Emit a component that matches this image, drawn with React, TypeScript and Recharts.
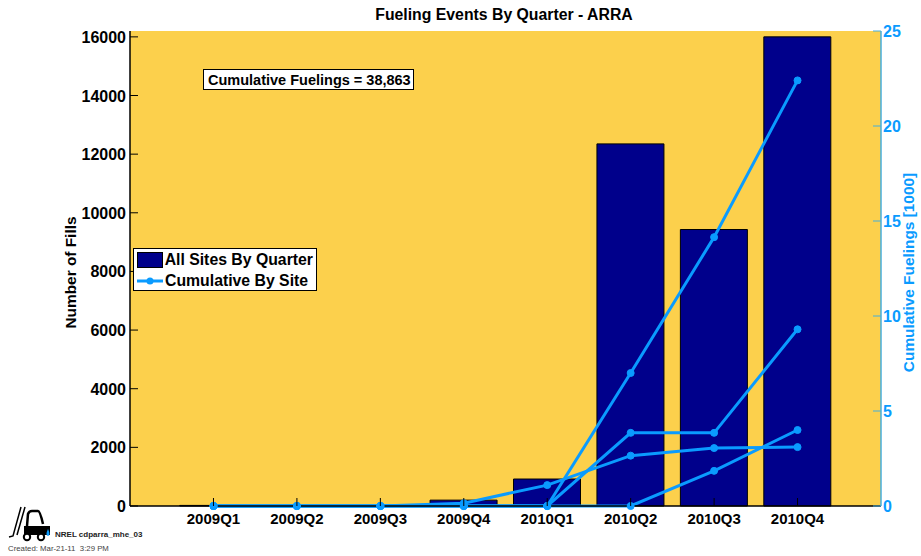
import React from 'react';
import { ComposedChart, Bar, Line, XAxis, YAxis, CartesianGrid, Legend } from 'recharts';

const quarters = ['2009Q1', '2009Q2', '2009Q3', '2009Q4', '2010Q1', '2010Q2', '2010Q3', '2010Q4'];
const allSites = [20, 0, 0, 200, 920, 12350, 9430, 16000];
const siteA = [0, 0, 0, 0, 0, 7.0, 14.15, 22.4];
const siteB = [0, 0, 0, 0, 0, 3.85, 3.85, 9.3];
const siteC = [0, 0, 0, 0.15, 1.1, 2.65, 3.05, 3.1];
const siteD = [0, 0, 0, 0, 0, 0, 1.85, 4.0];
const leftTicks = [0, 2000, 4000, 6000, 8000, 10000, 12000, 14000, 16000];
const rightTicks = [0, 5, 10, 15, 20, 25];

const data = quarters.map((q, i) => ({
  quarter: q,
  allSites: allSites[i],
  siteA: siteA[i],
  siteB: siteB[i],
  siteC: siteC[i],
  siteD: siteD[i],
}));

const FONT = '"Liberation Sans", Arial, sans-serif';
const BLUE = '#0a9bff';
const AXIS_BLUE = '#45aede';
const NAVY = '#00008b';

const lineSeries = ['siteA', 'siteB', 'siteC', 'siteD'];

function LeftTick({ x, y, payload }: any) {
  return (
    <g>
      <line x1={x} x2={x + 8} y1={y} y2={y} stroke="#000" />
      <text x={x - 4} y={y + 6} textAnchor="end" fontFamily={FONT} fontWeight="bold" fontSize={16} fill="#000">
        {payload.value}
      </text>
    </g>
  );
}

function RightTick({ x, y, payload }: any) {
  return (
    <g>
      <line x1={x - 8} x2={x} y1={y} y2={y} stroke={AXIS_BLUE} />
      <text x={x + 2} y={y + 6} fontFamily={FONT} fontWeight="bold" fontSize={16} fill={BLUE}>
        {payload.value}
      </text>
    </g>
  );
}

function BottomTick({ x, y, payload }: any) {
  return (
    <g>
      <line x1={x} x2={x} y1={y} y2={y - 8} stroke="#000" />
      <text x={x} y={y + 18} textAnchor="middle" fontFamily={FONT} fontWeight="bold" fontSize={15} fill="#000">
        {payload.value}
      </text>
    </g>
  );
}

function LegendBox() {
  const row: React.CSSProperties = { display: 'flex', alignItems: 'center', height: 20 };
  return (
    <div
      style={{
        width: 184,
        height: 43,
        boxSizing: 'border-box',
        border: '1.5px solid #000',
        background: '#fff',
        padding: '1px 3px',
        fontFamily: FONT,
        fontWeight: 'bold',
        fontSize: 15.8,
        color: '#000',
        whiteSpace: 'nowrap',
      }}
    >
      <div style={row}>
        <svg width={27} height={18} style={{ marginRight: 1 }}>
          <rect x={0.5} y={1.5} width={25} height={15} fill={NAVY} stroke="#000" />
        </svg>
        All Sites By Quarter
      </div>
      <div style={{ ...row, marginTop: 1 }}>
        <svg width={27} height={18} style={{ marginRight: 1 }}>
          <line x1={0} x2={26} y1={9} y2={9} stroke={BLUE} strokeWidth={3} />
          <circle cx={13} cy={9} r={3.5} fill={BLUE} />
        </svg>
        Cumulative By Site
      </div>
    </div>
  );
}

function Forklift() {
  return (
    <svg width={50} height={36} viewBox="0 0 50 36" style={{ position: 'absolute', left: 8, top: 506 }}>
      <path d="M13 1 L5 30 L1 31" fill="none" stroke="#000" strokeWidth={1.5} />
      <path d="M17 1 L9 29" fill="none" stroke="#000" strokeWidth={1.5} />
      <path d="M19 20 L20 8 Q21 5 24 5 L30 5 Q32 5 35 18" fill="none" stroke="#000" strokeWidth={2.5} />
      <path d="M16 20 L42 20 L42 29 L16 29 Z" fill="#000" />
      <circle cx={19} cy={31} r={3.2} fill="#fff" stroke="#000" strokeWidth={2} />
      <circle cx={33} cy={31} r={3.2} fill="#fff" stroke="#000" strokeWidth={2} />
      <path d="M40 23 Q37 29 40 30 Q43 29 40 23 Z" fill={BLUE} />
    </svg>
  );
}

export default function App() {
  return (
    <div style={{ position: 'absolute', left: 0, top: 0, width: 921, height: 556, background: '#fff' }}>
      <ComposedChart
        width={921}
        height={556}
        data={data}
        margin={{ top: 31, right: 0, bottom: 0, left: 0 }}
      >
        <CartesianGrid horizontal={false} vertical={false} fill="#fcd04c" />
        <XAxis
          dataKey="quarter"
          height={50}
          padding={{ left: 41.75, right: 41.75 }}
          interval={0}
          tickLine={false}
          tickSize={0}
          tickMargin={0}
          axisLine={{ stroke: '#000', strokeWidth: 1.5 }}
          tick={BottomTick}
        />
        <YAxis
          yAxisId="left"
          width={130}
          domain={[0, 16200]}
          ticks={leftTicks}
          interval={0}
          tickLine={false}
          tickSize={0}
          tickMargin={0}
          axisLine={{ stroke: '#000', strokeWidth: 1.5 }}
          tick={LeftTick}
          label={{
            value: 'Number of Fills',
            angle: -90,
            position: 'center',
            dx: 6,
            dy: 4,
            fontFamily: FONT,
            fontWeight: 'bold',
            fontSize: 15.4,
            fill: '#000',
          }}
        />
        <YAxis
          yAxisId="right"
          orientation="right"
          width={40}
          domain={[0, 25]}
          ticks={rightTicks}
          interval={0}
          tickLine={false}
          tickSize={0}
          tickMargin={0}
          axisLine={{ stroke: AXIS_BLUE, strokeWidth: 1.5 }}
          tick={RightTick}
          label={{
            value: 'Cumulative Fuelings [1000]',
            angle: -90,
            position: 'center',
            dx: 8,
            dy: 4,
            fontFamily: FONT,
            fontWeight: 'bold',
            fontSize: 15.4,
            fill: BLUE,
          }}
        />
        <Legend
          content={LegendBox}
          layout="vertical"
          align="center"
          verticalAlign="middle"
          wrapperStyle={{ position: 'absolute', left: 133, top: 248, width: 184, bottom: 'auto' }}
        />
        <Bar
          yAxisId="left"
          dataKey="allSites"
          barSize={67}
          fill={NAVY}
          stroke="#000"
          strokeWidth={1}
          isAnimationActive={false}
        />
        {lineSeries.map((key) => (
          <Line
            key={key}
            yAxisId="right"
            dataKey={key}
            stroke={BLUE}
            strokeWidth={3}
            dot={{ r: 3.5, fill: BLUE, stroke: BLUE, strokeWidth: 1 }}
            isAnimationActive={false}
          />
        ))}
        <text x={504} y={20} textAnchor="middle" fontFamily={FONT} fontWeight="bold" fontSize={15.8} fill="#000">
          Fueling Events By Quarter - ARRA
        </text>
        <rect x={203.5} y={69.5} width={210} height={20} fill="#fff" stroke="#000" strokeWidth={1} />
        <text x={208} y={85} fontFamily={FONT} fontWeight="bold" fontSize={14.5} fill="#000">
          Cumulative Fuelings = 38,863
        </text>
      </ComposedChart>
      <Forklift />
      <div
        style={{
          position: 'absolute',
          left: 55,
          top: 530,
          fontFamily: FONT,
          fontWeight: 'bold',
          fontSize: 8,
          color: '#222',
          whiteSpace: 'nowrap',
        }}
      >
        NREL cdparra_mhe_03
      </div>
      <div
        style={{
          position: 'absolute',
          left: 8,
          top: 544,
          fontFamily: FONT,
          fontSize: 7.8,
          color: '#444',
          whiteSpace: 'pre',
        }}
      >
        Created: Mar-21-11  3:29 PM
      </div>
    </div>
  );
}
